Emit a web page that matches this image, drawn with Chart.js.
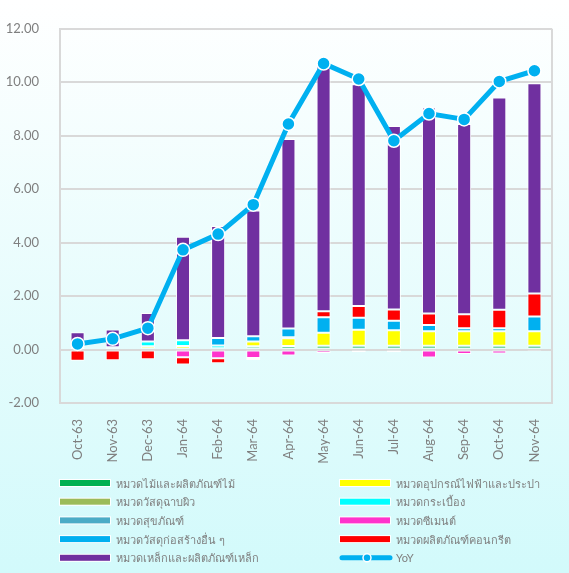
<!DOCTYPE html>
<html>
<head>
<meta charset="utf-8">
<script src="https://cdn.jsdelivr.net/npm/chart.js@4"></script>
<style>
  html, body { margin: 0; padding: 0; background: #fff; }
</style>
</head>
<body>
<canvas id="chart" width="569" height="573"></canvas>
<script>
const months = ["Oct-63", "Nov-63", "Dec-63", "Jan-64", "Feb-64", "Mar-64", "Apr-64",
    "May-64", "Jun-64", "Jul-64", "Aug-64", "Sep-64", "Oct-64", "Nov-64"];

// stacked categories, in the order of the legend (row by row)
const wood = [0, 0, 0, 0, 0, 0.12, 0.13, 0.14, 0.14, 0.14, 0.14, 0.14, 0.14, 0.14];
const electric = [0.02, 0.03, 0.12, 0.13, 0.05, 0.18, 0.29, 0.49, 0.6, 0.58, 0.54, 0.54, 0.54, 0.54];
const finishing = [0, 0, 0, 0, 0, 0, 0, 0, 0, 0, 0, 0, 0, 0];
const tiles = [0.05, 0.06, 0.18, 0.22, 0.1, 0, 0.04, 0, 0, 0, 0, 0, 0, 0];
const sanitary = [0, 0, 0, 0, 0, 0, 0, 0, 0, 0, 0, 0, 0, 0];
const cement = [0, 0, 0, -0.29, -0.33, -0.32, -0.22, -0.13, -0.1, -0.1, -0.3, -0.17, -0.15, -0.05];
const otherMaterials = [0, 0, 0, 0, 0.28, 0.2, 0.33, 0.58, 0.45, 0.36, 0.24, 0.12, 0.12, 0.56];
const concrete = [-0.42, -0.4, -0.36, -0.27, -0.18, -0.07, 0, 0.22, 0.44, 0.42, 0.43, 0.52, 0.69, 0.86];
const steel = [0.58, 0.66, 1.07, 3.87, 4.19, 4.7, 7.09, 9.17, 8.3, 6.86, 7.71, 7.12, 7.94, 7.86];
const yoy = [0.21, 0.4, 0.8, 3.73, 4.32, 5.42, 8.44, 10.7, 10.12, 7.81, 8.83, 8.61, 10.03, 10.43];

const series = [
    ["หมวดไม้และผลิตภัณฑ์ไม้", "#00b050", wood],
    ["หมวดอุปกรณ์ไฟฟ้าและประปา", "#ffff00", electric],
    ["หมวดวัสดุฉาบผิว", "#9bbb59", finishing],
    ["หมวดกระเบื้อง", "#00ffff", tiles],
    ["หมวดสุขภัณฑ์", "#4bacc6", sanitary],
    ["หมวดซีเมนต์", "#ff33cc", cement],
    ["หมวดวัสดุก่อสร้างอื่น ๆ", "#00b0f0", otherMaterials],
    ["หมวดผลิตภัณฑ์คอนกรีต", "#ff0000", concrete],
    ["หมวดเหล็กและผลิตภัณฑ์เหล็ก", "#7030a0", steel]
];

const lineColor = "#00b0f0";
const textColor = "#7f7f7f";
const fontFamily = "Lato, 'Noto Sans', sans-serif";

const backdrop = {
    id: "backdrop",
    beforeDraw(chart) {
        const { ctx, width, height } = chart;
        const g = ctx.createLinearGradient(0, 0, 0, height);
        g.addColorStop(0, "#ffffff");
        g.addColorStop(1, "#d2fafb");
        ctx.save();
        ctx.fillStyle = g;
        ctx.fillRect(0, 0, width, height);
        ctx.restore();
    },
    beforeDatasetsDraw(chart) {
        const { ctx, chartArea } = chart;
        ctx.save();
        ctx.strokeStyle = "#d9d9d9";
        ctx.lineWidth = 2;
        ctx.beginPath();
        ctx.moveTo(chartArea.right, chartArea.top);
        ctx.lineTo(chartArea.right, chartArea.bottom);
        ctx.stroke();
        ctx.restore();
    }
};

// two column legend under the chart
const twoColLegend = {
    id: "twoColLegend",
    afterDraw(chart) {
        const { ctx } = chart;
        const items = series.map((s) => ({ text: s[0], color: s[1] }));
        items.push({ text: "YoY", color: lineColor, line: true });
        ctx.save();
        ctx.font = "11px " + fontFamily;
        ctx.textBaseline = "middle";
        items.forEach((it, i) => {
            const col = i % 2;
            const row = Math.floor(i / 2);
            const x = col ? 340 : 60;
            const y = 483 + row * 18.7;
            if (it.line) {
                ctx.strokeStyle = it.color;
                ctx.lineWidth = 5;
                ctx.lineCap = "round";
                ctx.beginPath();
                ctx.moveTo(x + 2, y);
                ctx.lineTo(x + 50, y);
                ctx.stroke();
                ctx.fillStyle = it.color;
                ctx.strokeStyle = "#fff";
                ctx.lineWidth = 1.5;
                ctx.beginPath();
                ctx.arc(x + 27, y, 4, 0, Math.PI * 2);
                ctx.fill();
                ctx.stroke();
            } else {
                ctx.fillStyle = "#fff";
                ctx.fillRect(x - 1, y - 4, 52, 8);
                ctx.fillStyle = it.color;
                ctx.fillRect(x, y - 3, 50, 6);
            }
            ctx.fillStyle = textColor;
            ctx.fillText(it.text, x + 56, y + 1);
        });
        ctx.restore();
    }
};

const datasets = series.map(([label, color, data]) => ({
    type: "bar",
    label,
    data,
    backgroundColor: color,
    borderColor: "#ffffff",
    borderWidth: 1,
    borderSkipped: false,
    barPercentage: 0.4,
    categoryPercentage: 1,
    stack: "cats",
    order: 1
}));

datasets.push({
    type: "line",
    label: "YoY",
    data: yoy,
    borderColor: lineColor,
    backgroundColor: lineColor,
    borderWidth: 5,
    pointRadius: 6.5,
    pointBackgroundColor: lineColor,
    pointBorderColor: "#ffffff",
    pointBorderWidth: 1.5,
    tension: 0,
    stack: "yoy",
    order: 0
});

new Chart(document.getElementById("chart"), {
    data: { labels: months, datasets },
    options: {
        responsive: false,
        animation: false,
        devicePixelRatio: 1,
        layout: { padding: { top: 28, right: 17, bottom: 110, left: 0 } },
        plugins: {
            legend: { display: false },
            tooltip: { enabled: false }
        },
        scales: {
            x: {
                stacked: true,
                grid: { display: false },
                border: { display: true, color: "#d9d9d9", width: 2 },
                ticks: {
                    color: textColor,
                    font: { family: fontFamily, size: 13 },
                    minRotation: 90,
                    maxRotation: 90,
                    autoSkip: false,
                    padding: 8
                },
                afterFit: (scale) => { scale.height = 60; }
            },
            y: {
                stacked: true,
                min: -2,
                max: 12,
                grid: { color: "#d9d9d9", lineWidth: 2, drawTicks: false },
                border: { display: true, color: "#d9d9d9", width: 2 },
                ticks: {
                    stepSize: 2,
                    color: textColor,
                    font: { family: fontFamily, size: 13 },
                    padding: 21,
                    callback: (v) => v.toFixed(2)
                },
                afterFit: (scale) => { scale.width = 60; }
            }
        }
    },
    plugins: [backdrop, twoColLegend]
});
</script>
</body>
</html>
